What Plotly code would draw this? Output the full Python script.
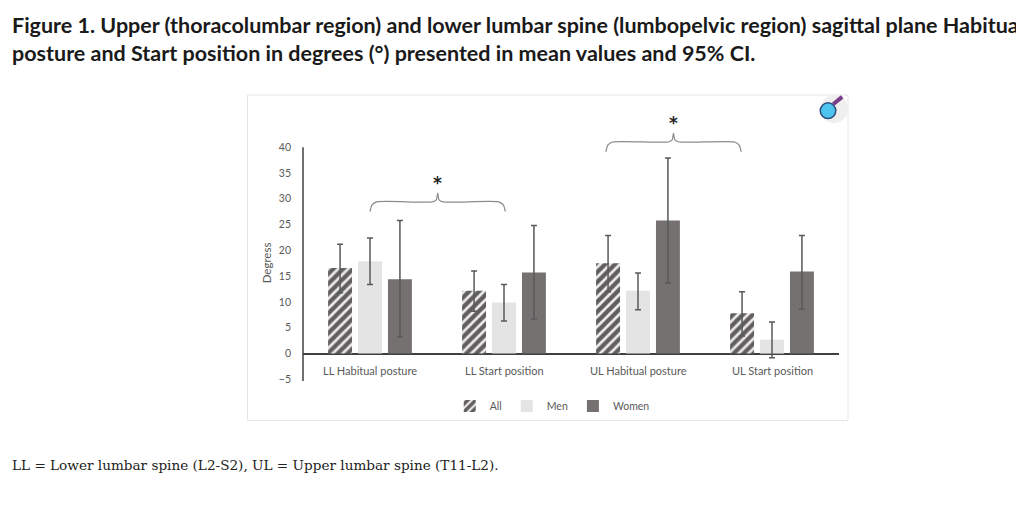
import plotly.graph_objects as go

# values (degrees)
categories = ['LL Habitual posture', 'LL Start position', 'UL Habitual posture', 'UL Start position']

all_mean = [16.6, 12.2, 17.5, 7.8]
all_low = [11.8, 8.2, 12.0, 3.4]
all_high = [21.2, 16.0, 22.9, 12.0]

men_mean = [17.9, 9.9, 12.2, 2.7]
men_low = [13.4, 6.3, 8.5, -0.8]
men_high = [22.4, 13.4, 15.6, 6.1]

women_mean = [14.4, 15.7, 25.8, 15.9]
women_low = [3.2, 6.7, 13.7, 8.6]
women_high = [25.8, 24.8, 37.9, 22.9]

y_ticks = [-5, 0, 5, 10, 15, 20, 25, 30, 35, 40]

# significance brackets: (left, right) in category units, bar level, star level
bracket_left = [0.0, 1.76]
bracket_right = [1.01, 2.77]
bracket_y = [29.4, 41.0]
star_y = [33.0, 44.7]

grey_txt = '#595959'
dark = '#767171'
light = '#e4e4e4'


def err(mean, low, high):
    return dict(type='data', symmetric=False,
                array=[h - m for m, h in zip(mean, high)],
                arrayminus=[m - l for m, l in zip(mean, low)],
                color=grey_txt, thickness=1.5, width=3)


fig = go.Figure()

fig.add_trace(go.Bar(x=categories, y=all_mean, name='All',
                     marker=dict(color='#ececec', line=dict(width=0),
                                 pattern=dict(shape='/', fgcolor='#625e5e', bgcolor='#ececec',
                                              fgopacity=1, size=7, solidity=0.62)),
                     error_y=err(all_mean, all_low, all_high)))
fig.add_trace(go.Bar(x=categories, y=men_mean, name='Men',
                     marker=dict(color=light, line=dict(width=0)),
                     error_y=err(men_mean, men_low, men_high)))
fig.add_trace(go.Bar(x=categories, y=women_mean, name='Women',
                     marker=dict(color=dark, line=dict(width=0)),
                     error_y=err(women_mean, women_low, women_high)))

# braces drawn on a hidden linear x axis laid over the category axis
for x0, x1, yb in zip(bracket_left, bracket_right, bracket_y):
    xc = (x0 + x1) / 2
    xs = [x0, x0 + 0.015, x0 + 0.05, xc - 0.04, xc - 0.01, xc, xc + 0.01, xc + 0.04, x1 - 0.05, x1 - 0.015, x1]
    ys = [yb - 1.9, yb - 0.6, yb, yb, yb + 0.4, yb + 1.7, yb + 0.4, yb, yb, yb - 0.6, yb - 1.9]
    fig.add_trace(go.Scatter(x=xs, y=ys, xaxis='x2', mode='lines', showlegend=False,
                             hoverinfo='skip', line=dict(color='#8c8c8c', width=1.2, shape='spline', smoothing=0.6)))

annotations = []
for x0, x1, ys in zip(bracket_left, bracket_right, star_y):
    annotations.append(dict(x=(x0 + x1) / 2, y=ys, xref='x2', yref='y', text='<b>*</b>', showarrow=False,
                            font=dict(size=17, color='#262626', family='DejaVu Sans')))

for c in categories:
    annotations.append(dict(x=c, y=-3.3, xref='x', yref='y', text=c, showarrow=False,
                            font=dict(size=11, color=grey_txt, family='Lato')))

annotations.append(dict(x=-0.069, y=17.5, xref='paper', yref='y', xanchor='center', yanchor='middle',
                        text='Degress', textangle=-90,
                        showarrow=False, font=dict(size=11.5, color=grey_txt, family='Lato')))

annotations.append(dict(x=-0.5466, y=1.372, xref='paper', yref='paper', xanchor='left', yanchor='top',
                        align='left', showarrow=False,
                        text='<b>Figure 1. Upper (thoracolumbar region) and lower lumbar spine (lumbopelvic region) '
                             'sagittal plane Habitual<br>posture and Start position in degrees (°) presented in '
                             'mean values and 95% CI.</b>',
                        font=dict(size=21.5, color='#1a1a1a', family='Lato')))

annotations.append(dict(x=-0.5466, y=-0.306, xref='paper', yref='paper', xanchor='left', yanchor='middle',
                        showarrow=False,
                        text='LL = Lower lumbar spine (L2-S2), UL = Upper lumbar spine (T11-L2).',
                        font=dict(size=13.6, color='#222222', family='DejaVu Serif')))

shapes = [
    # chart frame
    dict(type='rect', xref='paper', yref='paper', x0=-0.1035, x1=1.0168, y0=-0.142, y1=1.059,
         line=dict(color='#e6e6e6', width=1), fillcolor='rgba(0,0,0,0)', layer='below'),
    # vertical axis line
    dict(type='line', xref='paper', yref='y', x0=0, x1=0, y0=-5.3, y1=40,
         line=dict(color='#404040', width=1.5)),
    # magnifier icon
    dict(type='circle', xref='paper', yref='paper', x0=0.965, x1=1.0168, y0=0.955, y1=1.059,
         line=dict(width=0), fillcolor='#efefef'),
    dict(type='line', xref='paper', yref='paper', x0=0.989, x1=1.006, y0=1.025, y1=1.052,
         line=dict(color='#7a3d8a', width=4)),
    dict(type='circle', xref='paper', yref='paper', x0=0.965, x1=0.994, y0=0.972, y1=1.03,
         line=dict(color='#2d4f7c', width=1.5), fillcolor='#4cc4ee'),
]

# the page body adds an 8px offset, so the figure is 8px smaller and margins shifted
fig.update_layout(
    width=1016, height=497,
    margin=dict(l=295, r=185, t=103, b=123),
    paper_bgcolor='white', plot_bgcolor='white',
    barmode='group', bargap=0.33, bargroupgap=0.2,
    font=dict(family='Lato', size=10, color=grey_txt),
    xaxis=dict(type='category', range=[-0.5, 3.5], showticklabels=False, showgrid=False,
               showline=False, ticks=''),
    xaxis2=dict(overlaying='x', range=[-0.5, 3.5], visible=False),
    yaxis=dict(range=[-5.5, 47], tickvals=y_ticks, showgrid=False, showline=False, ticks='',
               zeroline=True, zerolinecolor='#404040', zerolinewidth=1.5,
               tickfont=dict(size=10.5, color=grey_txt), ticklabelstandoff=11),
    legend=dict(orientation='h', x=0.465, xanchor='center', y=-0.089, yanchor='middle',
                font=dict(size=10.5, color=grey_txt), itemwidth=30, traceorder='normal',
                bgcolor='rgba(0,0,0,0)'),
    annotations=annotations,
    shapes=shapes,
)

fig.write_html("out.html")
